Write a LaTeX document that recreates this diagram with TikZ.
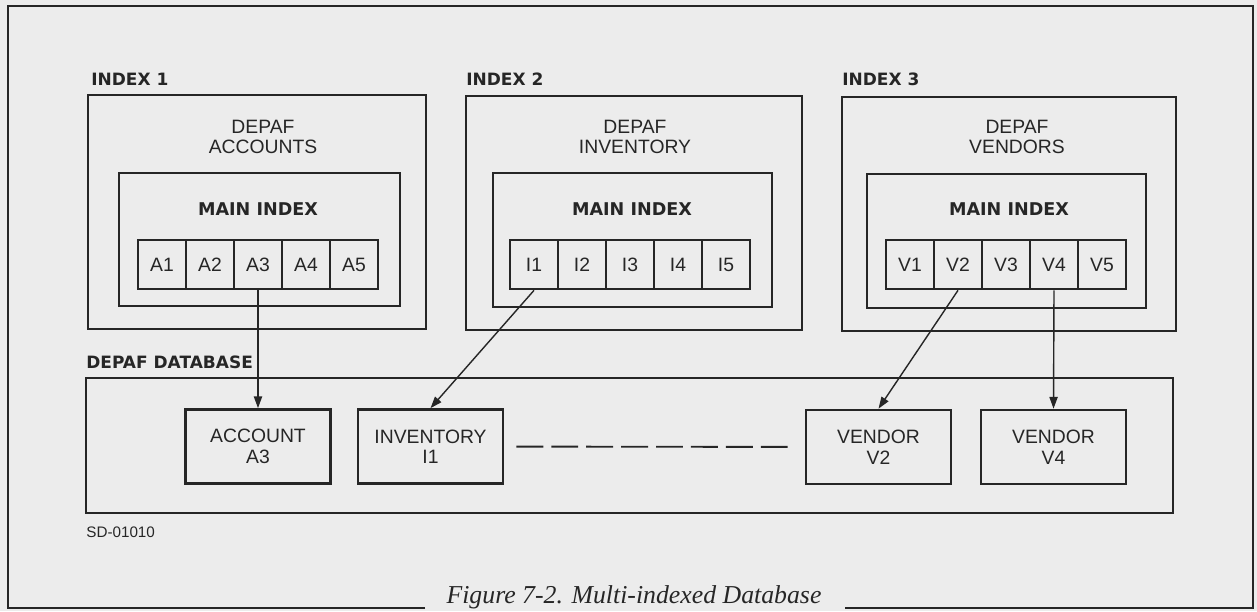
\documentclass[tikz,border=0pt]{standalone}
\usepackage{fontspec}
\setmainfont{Liberation Sans}
\newfontfamily\headfont{DejaVu Sans}
\newfontfamily\capfont{Liberation Serif}
\usetikzlibrary{arrows.meta}
\definecolor{ink}{HTML}{262626}
\definecolor{paper}{HTML}{ECECEC}
\tikzset{
    cell/.style={draw, minimum width=1.44cm, minimum height=1.47cm, inner sep=0pt,
        font=\fontsize{16.5}{19}\selectfont},
    rec/.style={draw, minimum width=4.35cm, minimum height=2.22cm, inner sep=0pt,
        align=center, font=\fontsize{16.5}{17.5}\selectfont},
    head/.style={anchor=base west, inner sep=0pt, font=\headfont\bfseries\fontsize{14.5}{17}\selectfont},
    mainlbl/.style={inner sep=0pt, font=\headfont\bfseries\fontsize{15}{17}\selectfont},
    title/.style={inner sep=0pt, align=center, font=\fontsize{16.5}{17}\selectfont},
    link/.style={line width=1.2pt, -{Triangle[length=10pt,width=7pt]}}
}

\begin{document}
\begin{tikzpicture}[x=0.03cm,y=-0.03cm,color=ink,line width=2.3pt]
\useasboundingbox (0,0) rectangle (1257,611);
\fill[paper] (0,0) rectangle (1257,611);
\draw (425,608) -- (8,608) -- (8,6) -- (1253,6) -- (1253,608) -- (845,608);

\draw (88,95) rectangle (426,329);
\draw (466,96) rectangle (802,330);
\draw (842,97) rectangle (1176,331);
\draw (119,173) rectangle (400,306);
\draw (493,173) rectangle (772,307);
\draw (867,174) rectangle (1146,308);
\draw (86,378) rectangle (1173,513);

\node[head] (idx1) at (90,85) {INDEX 1};
\node[head] (idx2) at (465,85) {INDEX 2};
\node[head] (idx3) at (841,85) {INDEX 3};
\node[title] (accts) at (263,136.5) {DEPAF\\ACCOUNTS};
\node[title] (invty) at (635,136.5) {DEPAF\\INVENTORY};
\node[title] (vends) at (1017,136.5) {DEPAF\\VENDORS};
\foreach \k/\x in {1/258,2/632,3/1009}
{
    \node[mainlbl] (main\k) at (\x,209) {MAIN INDEX};
}
\foreach \p/\l/\x in {a/A/114,i/I/486,v/V/862}
{
    \foreach \n in {1,...,5}
    {
        \node[cell] (\p\n) at (\x+48*\n,264.5) {\l\n};
    }
}

\node[head] (db) at (85,368) {DEPAF DATABASE};
\node[rec] (acct) at (258,446.5) {ACCOUNT\\A3};
\node[rec] (inv) at (430.5,446.5) {INVENTORY\\I1};
\node[rec] (vend2) at (878.5,447) {VENDOR\\V2};
\node[rec] (vend4) at (1053.5,447) {VENDOR\\V4};
\draw[line width=1.6pt, dash pattern=on 23pt off 6.8pt, shorten <=0.36cm, shorten >=0.51cm] (inv) -- (vend2);

\draw[link] (a3.south) -- (acct.north);
\draw[link] (i1.south) -- (inv.north);
\draw[link] (v2.south) -- (vend2.north);
\draw[link] (v4.south) -- (vend4.north);

\node[anchor=base west, inner sep=0pt, font=\fontsize{13}{15}\selectfont] (sd) at (85,537) {SD-01010};
\node[anchor=base, inner sep=0pt, font=\capfont\itshape\fontsize{22}{24}\selectfont] (cap) at (634,603) {Figure 7-2. Multi-indexed Database};
\end{tikzpicture}
\end{document}
